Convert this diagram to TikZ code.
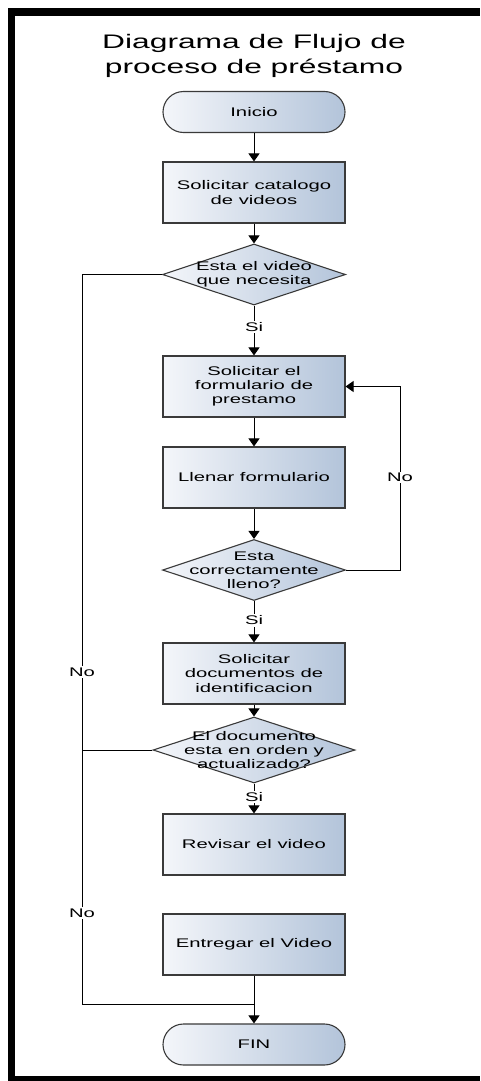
\documentclass[tikz,border=0pt]{standalone}
\usepackage{fontspec}
\setmainfont{Liberation Sans}[FakeStretch=1.62]
\usetikzlibrary{arrows.meta,shapes.geometric}

\definecolor{boxlight}{HTML}{F4F6FA}
\definecolor{boxdark}{HTML}{B3C4DA}
\definecolor{edge}{HTML}{3A3A3A}

\newcommand\bodyfont{\fontsize{12.5}{14.2}\selectfont}
\newcommand\headfont{\fontsize{19.6}{25}\selectfont}

\tikzset{
  base/.style={draw=edge, line width=1.1pt, left color=boxlight, right color=boxdark,
               inner sep=0pt, align=center, font=\bodyfont},
  procbox/.style={base, rectangle, minimum width=182pt, minimum height=61pt},
  term/.style={base, rectangle, rounded corners=20.5pt, minimum width=182pt, minimum height=41pt},
  decision/.style={base, diamond, minimum width=183pt, minimum height=61pt},
  caption/.style={align=center, font=\bodyfont, inner sep=0pt},
  lbl/.style={fill=white, font=\bodyfont, inner sep=1.5pt},
  flow/.style={draw=black, line width=1pt},
  arr/.style={flow, -{Triangle[width=11pt,length=8pt]}},
}

\begin{document}
\begin{tikzpicture}[x=1pt, y=-1pt]
% white page
\fill[white] (0,0) rectangle (480,1081);
\useasboundingbox (0,0) rectangle (480,1081);

% outer frame bars: top, left and bottom
\fill[black] (8,8) rectangle (480,16);
\fill[black] (8,8) rectangle (15,1081);
\fill[black] (8,1075.5) rectangle (480,1081);

% title
\node[font=\headfont, align=center] (title) at (254,55.5) {Diagrama de Flujo de\\proceso de préstamo};

% flow nodes
\node[term] (start) at (254,112) {Inicio};
\node[procbox] (b1) at (254,192.5) {Solicitar catalogo\\de videos};
\node[decision] (d1) at (254,274.5) {};
\node[caption] (d1t) at (d1) {Esta el video\\que necesita};
\node[procbox] (b2) at (254,386.5) {Solicitar el\\formulario de\\prestamo};
\node[procbox] (b3) at (254,477.5) {Llenar formulario};
\node[decision] (d2) at (254,570) {};
\node[caption] (d2t) at (d2) {Esta\\correctamente\\lleno?};
\node[procbox] (b4) at (254,673.5) {Solicitar\\documentos de\\identificacion};
\node[decision, minimum width=202pt, minimum height=66pt] (d3) at (254,750) {};
\node[caption] (d3t) at (d3) {El documento\\esta en orden y\\actualizado?};
\node[procbox] (b5) at (254,844.5) {Revisar el video};
\node[procbox] (b6) at (254,944.5) {Entregar el Video};
\node[term] (fin) at (254,1044.5) {FIN};

% helper points for the routed connectors
\coordinate (rx) at (400,570);
\coordinate (lx) at (82,1004);
\coordinate (mg) at (254,1004);

% main flow
\draw[arr] (start) -- (b1);
\draw[arr] (b1) -- (d1);
\draw[arr] (d1) -- node[lbl, pos=0.43] (si1) {Si} (b2);
\draw[arr] (b2) -- (b3);
\draw[arr] (b3) -- (d2);
\draw[arr] (d2) -- node[lbl, pos=0.47] (si2) {Si} (b4);
\draw[arr] (b4) -- (d3);
\draw[arr] (d3) -- node[lbl, pos=0.45] (si3) {Si} (b5);
\draw[arr] (b6) -- (fin);

% retry loop
\draw[arr] (d2.east) -- (rx) |- (b2.east);
\node[lbl] (no0) at (rx |- b3) {No};

% rejection path to the end
\draw[flow] (d1.west) -| (lx) -- (mg);
\draw[flow] (d3.west) -- (d3.west -| lx);
\node[lbl] (no1) at (82,672) {No};
\node[lbl] (no2) at (82,913) {No};
\end{tikzpicture}
\end{document}
